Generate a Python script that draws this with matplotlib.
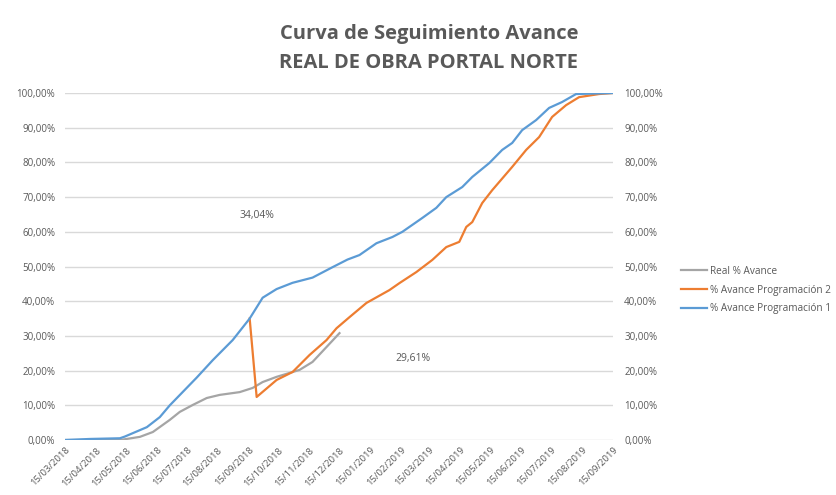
import matplotlib
matplotlib.use('Agg')
import matplotlib.pyplot as plt
import matplotlib.dates as mdates
from matplotlib.ticker import FuncFormatter, MultipleLocator
import pandas as pd

# valores (% avance)
fechas_p1 = ['2018-03-15', '2018-04-09', '2018-05-09', '2018-05-14', '2018-06-05', '2018-06-18',
             '2018-06-28', '2018-07-25', '2018-08-10', '2018-08-30', '2018-09-16', '2018-09-29',
             '2018-10-13', '2018-10-29', '2018-11-18', '2018-12-08', '2018-12-23', '2019-01-04',
             '2019-01-21', '2019-02-06', '2019-02-16', '2019-03-08', '2019-03-22', '2019-04-01',
             '2019-04-17', '2019-04-27', '2019-05-14', '2019-05-27', '2019-06-06', '2019-06-16',
             '2019-06-30', '2019-07-13', '2019-07-26', '2019-08-09', '2019-09-15']
avance_p1 = [0.0, 0.3, 0.5, 1.0, 3.7, 6.6,
             10.0, 18.0, 23.0, 28.8, 35.0, 41.0,
             43.5, 45.3, 46.8, 49.8, 52.0, 53.3,
             56.7, 58.5, 60.0, 64.0, 66.9, 70.0,
             72.9, 75.8, 79.8, 83.6, 85.6, 89.3,
             92.2, 95.7, 97.4, 99.7, 100.0]

fechas_p2 = ['2018-09-16', '2018-09-23', '2018-10-13', '2018-10-29', '2018-11-15', '2018-12-02',
             '2018-12-12', '2018-12-25', '2019-01-11', '2019-02-03', '2019-02-13', '2019-03-02',
             '2019-03-18', '2019-04-01', '2019-04-14', '2019-04-21', '2019-04-27', '2019-05-07',
             '2019-05-17', '2019-06-06', '2019-06-20', '2019-07-03', '2019-07-16', '2019-07-30',
             '2019-08-12', '2019-09-01', '2019-09-15']
avance_p2 = [35.0, 12.4, 17.3, 19.6, 24.5, 28.8,
             32.2, 35.4, 39.5, 43.2, 45.2, 48.4,
             51.9, 55.6, 57.1, 61.4, 62.8, 68.3,
             72.0, 78.7, 83.6, 87.3, 93.1, 96.5,
             98.8, 99.7, 100.0]

fechas_real = ['2018-03-15', '2018-05-09', '2018-05-29', '2018-06-11', '2018-06-28', '2018-07-08',
               '2018-07-21', '2018-08-04', '2018-08-17', '2018-09-06', '2018-09-19', '2018-09-29',
               '2018-10-13', '2018-11-05', '2018-11-18', '2018-12-02', '2018-12-15']
avance_real = [0.0, 0.0, 0.9, 2.3, 5.8, 8.1,
               10.1, 12.1, 13.0, 13.8, 15.0, 16.7,
               18.2, 20.2, 22.5, 26.8, 30.8]

etiqueta_1 = '34,04%'
etiqueta_2 = '29,61%'

GRIS_TXT = '#595959'
plt.rcParams['font.family'] = ['Open Sans', 'DejaVu Sans']

fig = plt.figure(figsize=(8.37, 4.95), dpi=100)
ax = fig.add_axes([65 / 837, 1 - 440 / 495, (613 - 65) / 837, (440 - 93) / 495])

ax.plot(pd.to_datetime(fechas_real), avance_real, color='#A5A5A5', lw=1.6, label='Real % Avance')
ax.plot(pd.to_datetime(fechas_p2), avance_p2, color='#ED7D31', lw=1.6, label='% Avance Programación 2')
ax.plot(pd.to_datetime(fechas_p1), avance_p1, color='#5B9BD5', lw=1.6, label='% Avance Programación 1')

ax.set_xlim(pd.Timestamp('2018-03-15'), pd.Timestamp('2019-09-15'))
ax.set_ylim(0, 100)
ax.yaxis.set_major_locator(MultipleLocator(10))
fmt = FuncFormatter(lambda v, p: f'{v:.2f}%'.replace('.', ','))
ax.yaxis.set_major_formatter(fmt)
ax.grid(axis='y', color='#D9D9D9', lw=1)
ax.set_axisbelow(True)
for s in ax.spines.values():
    s.set_visible(False)
ax.tick_params(axis='y', length=0, pad=7, labelsize=7, labelcolor=GRIS_TXT)

ax.xaxis.set_major_locator(mdates.MonthLocator(bymonthday=15))
ax.xaxis.set_major_formatter(mdates.DateFormatter('%d/%m/%Y'))
ax.tick_params(axis='x', length=0, pad=4, labelsize=6.8, labelcolor=GRIS_TXT)
for lab in ax.get_xticklabels():
    lab.set_rotation(45)
    lab.set_ha('right')
    lab.set_rotation_mode('anchor')

ax2 = ax.twinx()
ax2.set_ylim(0, 100)
ax2.yaxis.set_major_locator(MultipleLocator(10))
ax2.yaxis.set_major_formatter(fmt)
for s in ax2.spines.values():
    s.set_visible(False)
ax2.tick_params(axis='y', length=0, pad=8, labelsize=7, labelcolor=GRIS_TXT)

fig.text(257 / 837, 1 - 216 / 495, etiqueta_1, ha='center', va='center', fontsize=7.5, color=GRIS_TXT)
fig.text(413 / 837, 1 - 359 / 495, etiqueta_2, ha='center', va='center', fontsize=7.5, color=GRIS_TXT)

fig.text(429 / 837, 1 - 34 / 495, 'Curva de Seguimiento Avance', ha='center', va='center',
         fontsize=14.5, fontweight='bold', color=GRIS_TXT)
fig.text(429 / 837, 1 - 63 / 495, 'REAL DE OBRA PORTAL NORTE', ha='center', va='center',
         fontsize=14.5, fontweight='bold', color=GRIS_TXT)

fig.legend(loc='center left', bbox_to_anchor=(672 / 837, 1 - 290 / 495), frameon=False,
           fontsize=7.2, labelcolor=GRIS_TXT, handlelength=2.6, labelspacing=0.8, handletextpad=0.3)

fig.savefig('out.png', dpi=100)
